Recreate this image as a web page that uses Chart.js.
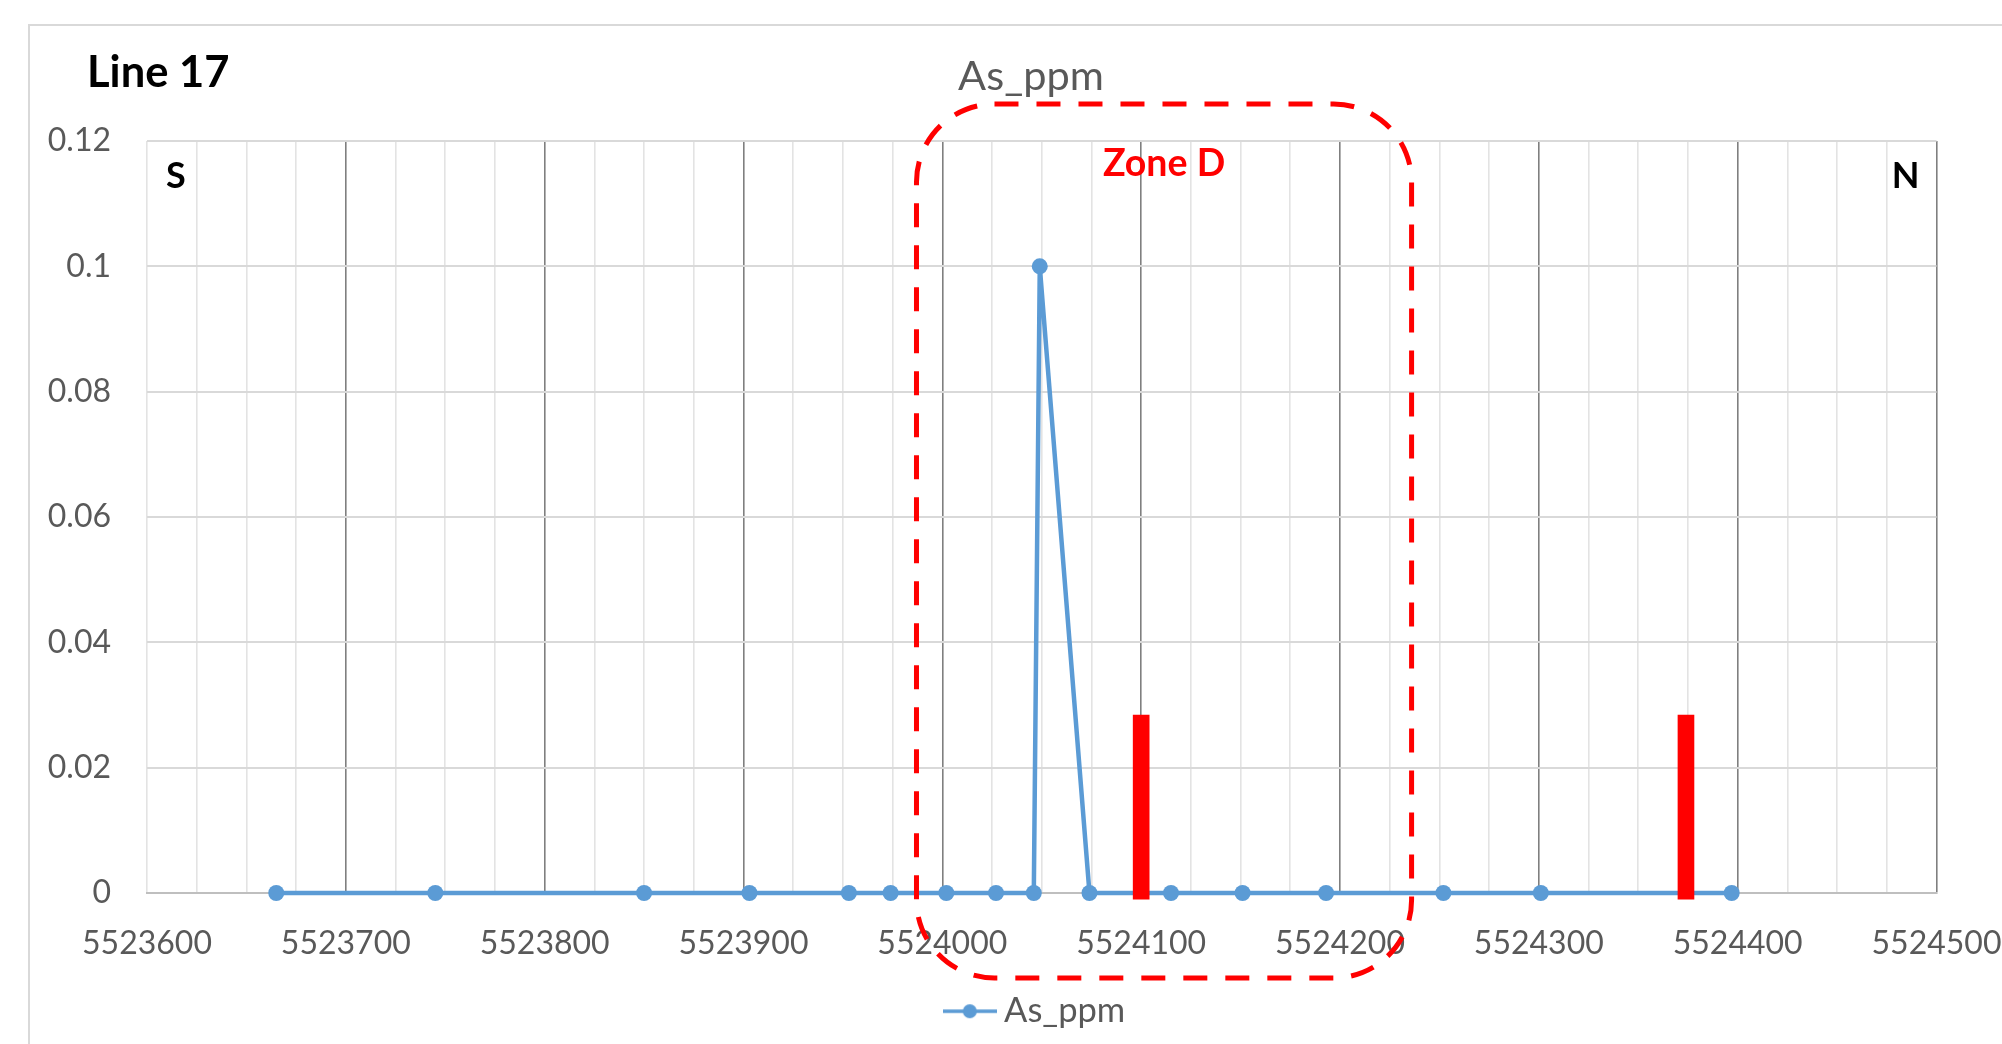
<!DOCTYPE html>
<html>
<head>
<meta charset="utf-8">
<script src="https://cdn.jsdelivr.net/npm/chart.js@4.4.1/dist/chart.umd.min.js"></script>
<style>
  html, body { margin: 0; padding: 0; background: #ffffff; }
  #wrap { width: 2002px; height: 1044px; }
</style>
</head>
<body>
<div id="wrap"><canvas id="c" width="2002" height="1044"></canvas></div>
<script>
// ---- data ----
const eastings = [5523665, 5523745, 5523850, 5523903, 5523953, 5523974, 5524002, 5524027, 5524046, 5524049, 5524074, 5524115, 5524151, 5524193, 5524252, 5524301, 5524397];
const asPpm    = [0, 0, 0, 0, 0, 0, 0, 0, 0, 0.1, 0, 0, 0, 0, 0, 0, 0];
const xMajorLabels = ['5523600', '5523700', '5523800', '5523900', '5524000', '5524100', '5524200', '5524300', '5524400', '5524500'];
const yTickLabels  = ['0', '0.02', '0.04', '0.06', '0.08', '0.1', '0.12'];
const redMarkEastings = [5524100, 5524374];
const redMarkRange = [-0.001, 0.0284];
const zoneEastings = [5523987, 5524236];
const chartTitle = 'As_ppm';
const seriesName = 'As_ppm';
const lineLabel = 'Line 17';
const zoneLabel = 'Zone D';
const southLabel = 'S';
const northLabel = 'N';

const xMin = 5523600, xMax = 5524500, xStep = 25, xMajor = 100;
const yMin = 0, yMax = 0.12, yStep = 0.02;

const BLUE = '#5B9BD5';
const GREY_TXT = '#595959';
const FONT = 'Lato';
const TITLE_CENTER = 1031;   // centre of the (partly cropped) chart frame
const LEGEND_CENTER = 1039;

const legendImg = (() => {
  const c = document.createElement('canvas');
  c.width = 54; c.height = 16;
  const g = c.getContext('2d');
  g.strokeStyle = BLUE; g.lineWidth = 3.5;
  g.beginPath(); g.moveTo(0, 8); g.lineTo(54, 8); g.stroke();
  g.fillStyle = BLUE;
  g.beginPath(); g.arc(27, 8, 7, 0, Math.PI * 2); g.fill();
  return c;
})();

const annotations = {
  id: 'annotations',
  afterLayout(chart) {
    // centre title and legend on the chart frame rather than the canvas
    if (chart.titleBlock) chart.titleBlock.left = 2 * TITLE_CENTER - chart.titleBlock.right;
    if (chart.legend) chart.legend.left = 2 * LEGEND_CENTER - chart.legend.right;
  },
  beforeDraw(chart) {
    const ctx = chart.ctx;
    ctx.save();
    ctx.fillStyle = '#ffffff';
    ctx.fillRect(0, 0, chart.width, chart.height);
    ctx.strokeStyle = '#D9D9D9';
    ctx.lineWidth = 2;
    ctx.strokeRect(29, 25, chart.width + 40, chart.height + 40);
    ctx.restore();
  },
  afterDatasetsDraw(chart) {
    const ctx = chart.ctx;
    const ca = chart.chartArea;
    const xs = chart.scales.x;
    const x0 = xs.getPixelForValue(zoneEastings[0]);
    const x1 = xs.getPixelForValue(zoneEastings[1]);
    const y0 = ca.top - 37;
    const y1 = ca.bottom + 85;
    ctx.save();
    ctx.strokeStyle = '#FF0000';
    ctx.lineWidth = 5;
    ctx.setLineDash([24, 18]);
    ctx.beginPath();
    ctx.roundRect(x0, y0, x1 - x0, y1 - y0, 78);
    ctx.stroke();
    ctx.setLineDash([]);

    ctx.fillStyle = '#FF0000';
    ctx.font = 'bold 37.5px ' + FONT;
    ctx.textAlign = 'center';
    ctx.textBaseline = 'alphabetic';
    ctx.fillText(zoneLabel, (x0 + x1) / 2, ca.top + 35);

    ctx.fillStyle = '#000000';
    ctx.font = 'bold 36px ' + FONT;
    ctx.textAlign = 'left';
    ctx.fillText(southLabel, ca.left + 19, ca.top + 47);
    ctx.textAlign = 'right';
    ctx.fillText(northLabel, ca.right - 17, ca.top + 47);

    ctx.font = 'bold 43.5px ' + FONT;
    ctx.textAlign = 'left';
    ctx.fillText(lineLabel, 87, 87);
    ctx.restore();
  }
};

new Chart(document.getElementById('c'), {
  type: 'line',
  data: {
    datasets: [
      {
        type: 'line',
        label: seriesName,
        data: eastings.map((x, i) => ({ x, y: asPpm[i] })),
        borderColor: BLUE,
        backgroundColor: BLUE,
        borderWidth: 4.5,
        pointRadius: 8,
        pointHoverRadius: 8,
        pointBackgroundColor: BLUE,
        pointBorderWidth: 0,
        tension: 0,
        order: 2,
        clip: false
      },
      {
        type: 'bar',
        label: '',
        data: redMarkEastings.map(x => ({ x, y: redMarkRange })),
        backgroundColor: '#FF0000',
        borderWidth: 0,
        barThickness: 16,
        grouped: false,
        order: 1,
        clip: false
      }
    ]
  },
  options: {
    responsive: false,
    animation: false,
    devicePixelRatio: 1,
    layout: { padding: { top: 0, left: 40, right: 65.5, bottom: 5.5 } },
    plugins: {
      title: {
        display: true,
        text: chartTitle,
        color: GREY_TXT,
        font: { family: FONT, size: 41.5, weight: 'normal' },
        padding: { top: 52.1, bottom: 39.1 }
      },
      legend: {
        position: 'bottom',
        labels: {
          usePointStyle: true,
          pointStyleWidth: 34,
          padding: 10,
          color: GREY_TXT,
          font: { family: FONT, size: 34.5 },
          generateLabels: (chart) => Chart.defaults.plugins.legend.labels.generateLabels(chart)
            .map(it => { it.pointStyle = legendImg; return it; }),
          filter: (item) => item.text === seriesName
        }
      },
      tooltip: { enabled: false }
    },
    scales: {
      x: {
        type: 'linear',
        min: xMin,
        max: xMax,
        offset: false,
        border: { display: true, color: '#BFBFBF', width: 2 },
        grid: {
          drawTicks: false,
          offset: false,
          color: (c) => {
            const v = c.tick ? c.tick.value : 0;
            return ((v - xMin) % xMajor === 0 && v !== xMin) ? '#7F7F7F' : '#E3E3E3';
          },
          lineWidth: 1.6
        },
        ticks: {
          stepSize: xStep,
          autoSkip: false,
          maxRotation: 0,
          minRotation: 0,
          padding: 31,
          color: GREY_TXT,
          font: { family: FONT, size: 32 },
          callback: (v) => ((v - xMin) % xMajor === 0) ? xMajorLabels[Math.round((v - xMin) / xMajor)] : ''
        },
        afterFit: (s) => { s.height = 91; s.paddingLeft = 0; s.paddingRight = 0; }
      },
      y: {
        min: yMin,
        max: yMax,
        border: { display: false },
        grid: { drawTicks: false, color: '#D9D9D9', lineWidth: 2 },
        ticks: {
          stepSize: yStep,
          padding: 36,
          color: GREY_TXT,
          font: { family: FONT, size: 32 },
          callback: (v, i) => yTickLabels[i]
        },
        afterFit: (s) => { s.width = 107; }
      }
    }
  },
  plugins: [annotations]
});
</script>
</body>
</html>
